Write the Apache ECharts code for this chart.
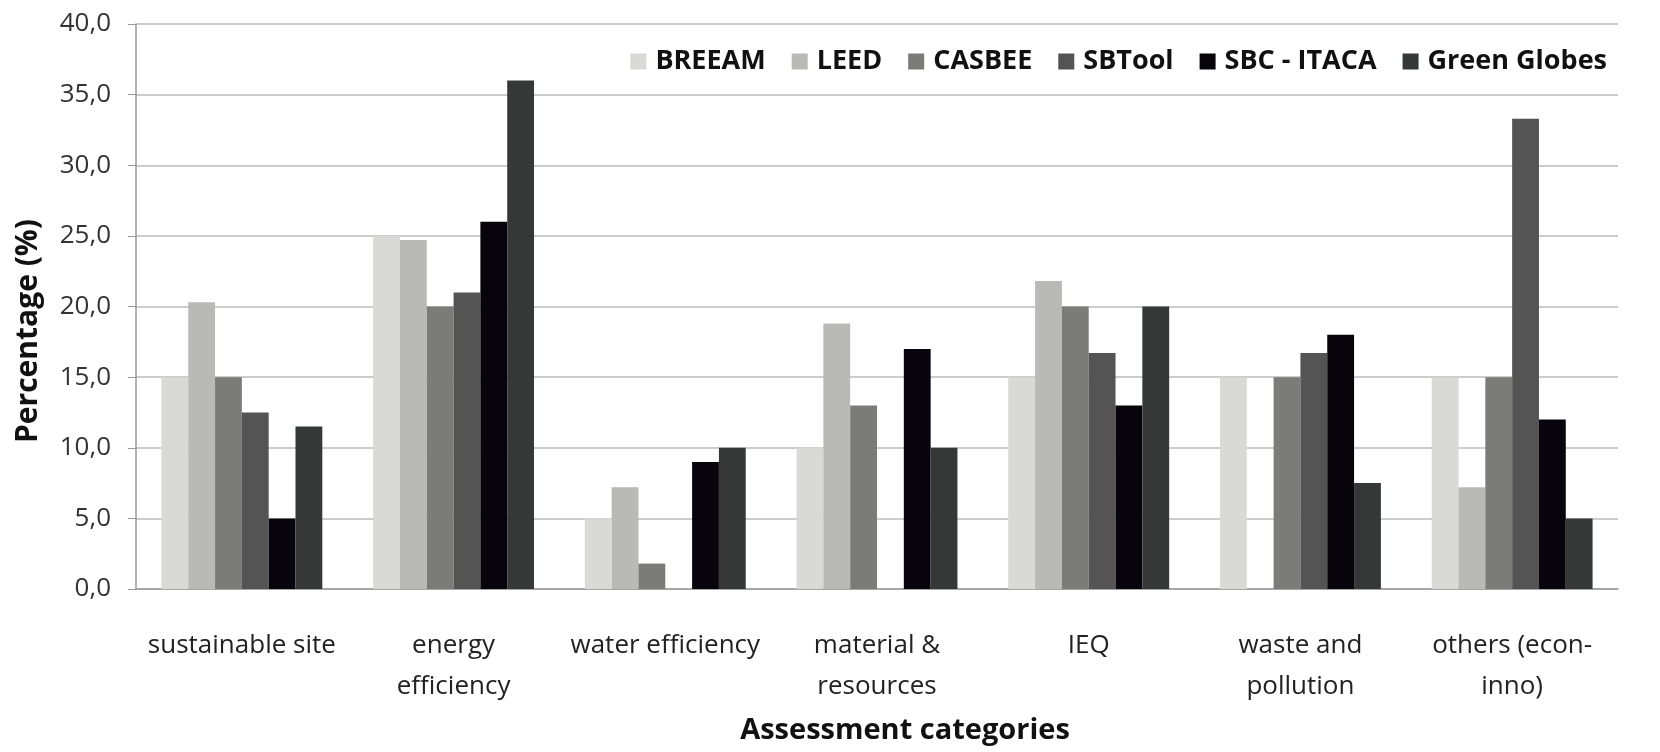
<!DOCTYPE html>
<html>
<head>
<meta charset="utf-8">
<script src="https://cdn.jsdelivr.net/npm/echarts@6/dist/echarts.min.js"></script>
<style>
  html, body { margin: 0; padding: 0; background: #fff; }
  #chart { width: 1660px; height: 752px; }
</style>
</head>
<body>
<div id="chart"></div>
<script>
// categories (line breaks as in the original labels)
const categories = [
  "sustainable site",
  "energy\nefficiency",
  "water efficiency",
  "material &\nresources",
  "IEQ",
  "waste and\npollution",
  "others (econ-\ninno)"
];

// percentages per rating system (null = no bar)
const breeam = [15.0, 25.0, 5.0, 10.0, 15.0, 15.0, 15.0];
const leed = [20.3, 24.7, 7.2, 18.8, 21.8, null, 7.2];
const casbee = [15.0, 20.0, 1.8, 13.0, 20.0, 15.0, 15.0];
const sbtool = [12.5, 21.0, null, null, 16.7, 16.7, 33.3];
const itaca = [5.0, 26.0, 9.0, 17.0, 13.0, 18.0, 12.0];
const greenGlobes = [11.5, 36.0, 10.0, 10.0, 20.0, 7.5, 5.0];

const seriesNames = ["BREEAM", "LEED", "CASBEE", "SBTool", "SBC - ITACA", "Green Globes"];
const seriesData = [breeam, leed, casbee, sbtool, itaca, greenGlobes];
const colors = ["#d9dad7", "#b9bab7", "#7b7c7a", "#535453", "#07040b", "#363838"];

const FONT = "Open Sans";

var myChart = echarts.init(document.getElementById("chart"));

let option = {
  animation: false,
  color: colors,
  textStyle: { fontFamily: FONT, color: "#222" },
  grid: { left: 136, right: 42, top: 24, bottom: 163 },
  legend: {
    right: 48,
    top: 43,
    itemWidth: 16,
    itemHeight: 16,
    itemGap: 26,
    icon: "rect",
    textStyle: { fontFamily: FONT, fontSize: 27, fontWeight: "bold", color: "#111", padding: [0, 0, 0, 4] },
    data: seriesNames
  },
  xAxis: {
    type: "category",
    data: categories,
    axisTick: { show: false },
    axisLine: { lineStyle: { color: "#999", width: 1.5 } },
    axisLabel: {
      margin: 36,
      fontFamily: FONT,
      fontSize: 26,
      lineHeight: 41,
      color: "#222",
      interval: 0
    }
  },
  yAxis: {
    type: "value",
    min: 0,
    max: 40,
    interval: 5,
    axisLine: { show: true, lineStyle: { color: "#999", width: 1.5 } },
    axisTick: { show: true, length: 8, lineStyle: { color: "#999" } },
    splitLine: { lineStyle: { color: "#bbb", width: 1.5 } },
    axisLabel: {
      margin: 25,
      fontFamily: FONT,
      fontSize: 26,
      color: "#333",
      formatter: (v) => v.toFixed(1).replace(".", ",")
    }
  },
  graphic: [
    {
      type: "text",
      x: 28,
      y: 331,
      rotation: Math.PI / 2,
      style: {
        text: "Percentage (%)",
        fontFamily: FONT,
        fontSize: 30,
        fontWeight: "bold",
        fill: "#111",
        align: "center",
        verticalAlign: "middle"
      }
    },
    {
      type: "text",
      x: 905,
      y: 731,
      style: {
        text: "Assessment categories",
        fontFamily: FONT,
        fontSize: 29,
        fontWeight: "bold",
        fill: "#111",
        align: "center",
        verticalAlign: "middle"
      }
    }
  ],
  series: seriesNames.map((name, i) => ({
    name: name,
    type: "bar",
    data: seriesData[i],
    barGap: "0%",
    barCategoryGap: "24%"
  }))
};
myChart.setOption(option);
</script>
</body>
</html>
